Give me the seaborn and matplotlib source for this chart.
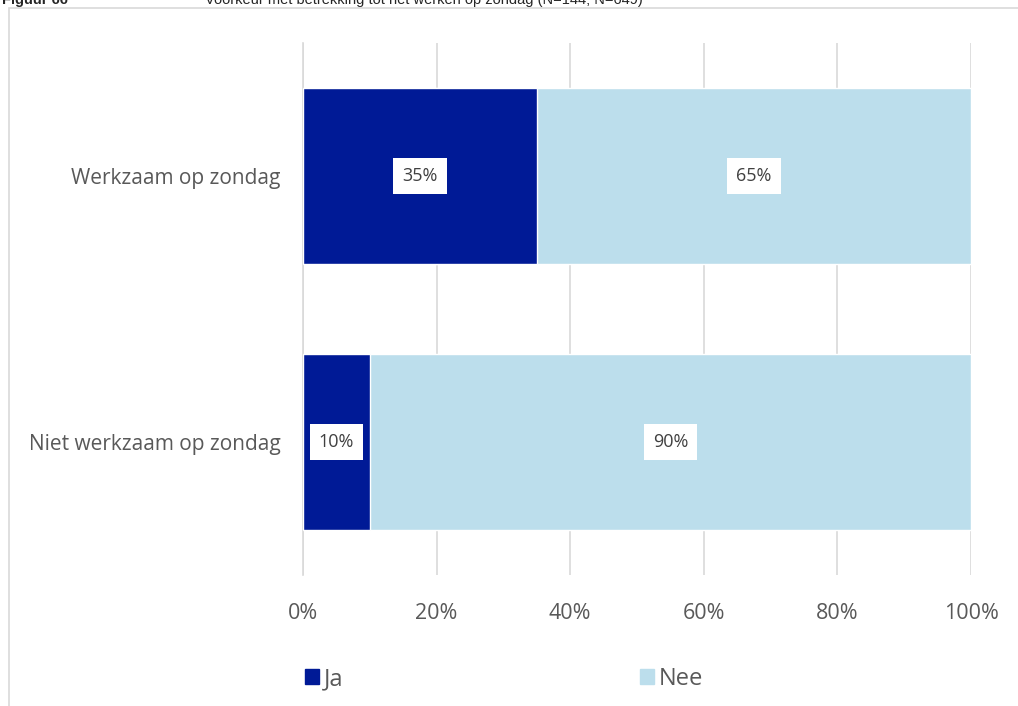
import matplotlib
matplotlib.use("Agg")
import matplotlib.pyplot as plt
from matplotlib.patches import Rectangle, Patch
import pandas as pd
import seaborn as sns

sns.set_theme(style="white")
plt.rcParams['font.family'] = ['Open Sans', 'DejaVu Sans']

categories = ["Werkzaam op zondag", "Niet werkzaam op zondag"]
ja = [35, 10]
nee = [65, 90]
series_names = ["Ja", "Nee"]
xticks = [0, 20, 40, 60, 80, 100]
xtick_labels = ["0%", "20%", "40%", "60%", "80%", "100%"]
title_num = "Figuur 66"
title_text = "Voorkeur met betrekking tot het werken op zondag (N=144; N=649)"

dark = "#001A96"
light = "#BCDEEC"
grey = "#595959"

df = pd.DataFrame({"cat": categories, "Ja": ja, "Nee": nee})
df["totaal"] = df["Ja"] + df["Nee"]


def main():
    fig = plt.figure(figsize=(10.18, 7.06), dpi=100)
    ax = fig.add_axes([303 / 1018, 131 / 706, 668 / 1018, 532 / 706])

    # frame of the chart box
    fig.patches.append(Rectangle((9 / 1018, -0.1), 1.2, (706 - 8) / 706 + 0.1,
                                 transform=fig.transFigure, fill=False,
                                 edgecolor="#D9D9D9", linewidth=1.2))

    # stacked: full bar in light, then the Ja part on top
    sns.barplot(data=df, y="cat", x="totaal", color=light, width=0.665,
                saturation=1, ax=ax, orient="h", zorder=2)
    sns.barplot(data=df, y="cat", x="Ja", color=dark, width=0.665,
                saturation=1, ax=ax, orient="h", zorder=3)

    for i in range(len(categories)):
        ax.text(ja[i] / 2, i, f"{ja[i]}%", ha="center", va="center",
                fontsize=13, color="#404040", zorder=5,
                bbox=dict(boxstyle="square,pad=0.5", fc="white", ec="none"))
        ax.text(ja[i] + nee[i] / 2, i, f"{nee[i]}%", ha="center", va="center",
                fontsize=13, color="#404040", zorder=5,
                bbox=dict(boxstyle="square,pad=0.5", fc="white", ec="none"))

    ax.set_xlim(0, 100)
    ax.set_ylim(1.5, -0.5)
    ax.set_xticks(xticks)
    ax.set_xticklabels(xtick_labels)
    ax.set_xlabel("")
    ax.set_ylabel("")
    ax.grid(axis="x", color="#D9D9D9", linewidth=1.2, zorder=0)
    ax.set_axisbelow(True)
    for s in ["top", "right", "bottom"]:
        ax.spines[s].set_visible(False)
    ax.spines["left"].set_color("#D9D9D9")
    ax.spines["left"].set_linewidth(1.2)

    ax.tick_params(axis="x", length=0, pad=20, labelsize=15.5, labelcolor=grey)
    ax.tick_params(axis="y", which="major", length=0, pad=16, labelsize=15,
                   labelcolor=grey)
    ax.set_yticks([-0.5, 0.5, 1.5], minor=True)
    ax.tick_params(axis="y", which="minor", length=6, color="#D9D9D9", width=1.2)

    handles = [Patch(facecolor=dark, edgecolor=dark),
               Patch(facecolor=light, edgecolor=light)]
    fig.legend(handles, series_names, loc="center left",
               bbox_to_anchor=(305 / 1018, 1 - 679 / 706), ncol=2,
               frameon=False, fontsize=17, handlelength=0.6, handleheight=0.6,
               handletextpad=0.2, columnspacing=12.55, labelcolor=grey,
               borderaxespad=0, borderpad=0)

    fig.text(2 / 1018, 1 - 4 / 706, title_num, family="Liberation Sans",
             fontweight="bold", fontsize=10.5, va="baseline", ha="left")
    fig.text(205 / 1018, 1 - 4 / 706, title_text, family="Liberation Sans",
             fontsize=10.5, va="baseline", ha="left")

    fig.savefig("out.png", dpi=100)
    plt.close(fig)


if __name__ == '__main__':
    main()
